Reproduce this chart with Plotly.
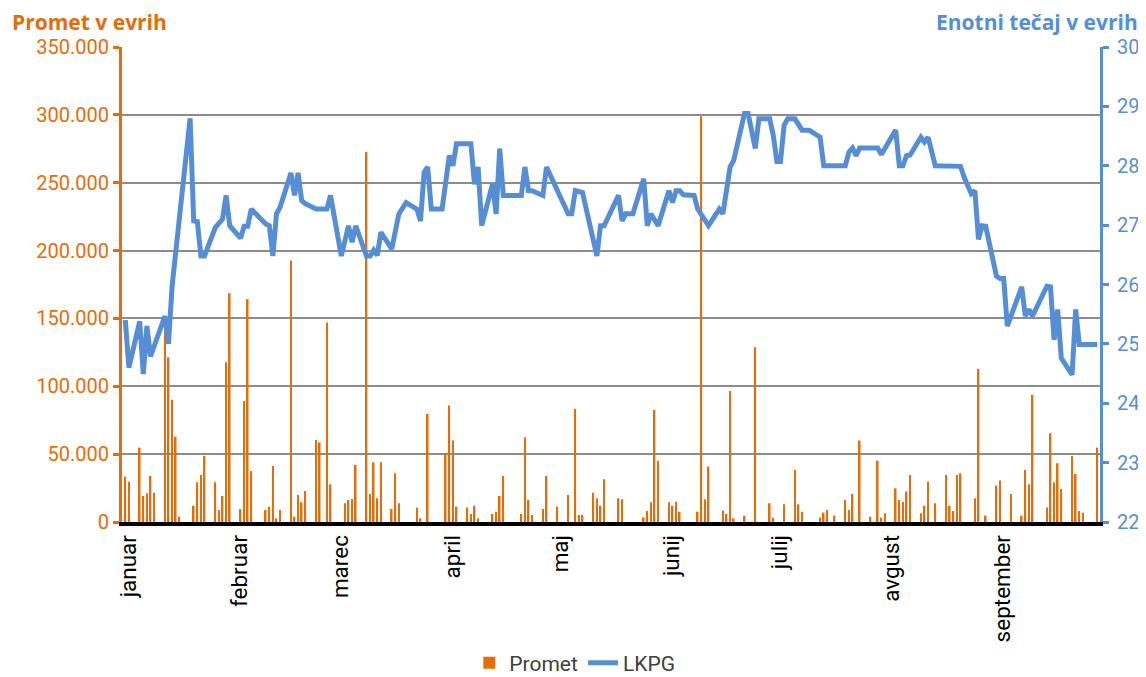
import plotly.graph_objects as go

ORANGE = "#E46C0A"
BLUE = "#558ED5"

# daily turnover (EUR), trading days with a visible bar
promet_dates = [
    "2015-01-01", "2015-01-02", "2015-01-05", "2015-01-06", "2015-01-07", "2015-01-08", "2015-01-09",
    "2015-01-12", "2015-01-13", "2015-01-14", "2015-01-15", "2015-01-16",
    "2015-01-20", "2015-01-21", "2015-01-22", "2015-01-23",
    "2015-01-26", "2015-01-27", "2015-01-28", "2015-01-29", "2015-01-30",
    "2015-02-02", "2015-02-03", "2015-02-04", "2015-02-05",
    "2015-02-09", "2015-02-10", "2015-02-11", "2015-02-12", "2015-02-13",
    "2015-02-16", "2015-02-17", "2015-02-18", "2015-02-19", "2015-02-20",
    "2015-02-23", "2015-02-24", "2015-02-26", "2015-02-27",
    "2015-03-03", "2015-03-04", "2015-03-05", "2015-03-06",
    "2015-03-09", "2015-03-10", "2015-03-11", "2015-03-12", "2015-03-13",
    "2015-03-16", "2015-03-17", "2015-03-18",
    "2015-03-23", "2015-03-24", "2015-03-26",
    "2015-03-31", "2015-04-01", "2015-04-02", "2015-04-03",
    "2015-04-06", "2015-04-07", "2015-04-08", "2015-04-09",
    "2015-04-13", "2015-04-14", "2015-04-15", "2015-04-16",
    "2015-04-21", "2015-04-22", "2015-04-23", "2015-04-24",
    "2015-04-27", "2015-04-28",
    "2015-05-01", "2015-05-04", "2015-05-06", "2015-05-07", "2015-05-08",
    "2015-05-11", "2015-05-12", "2015-05-13", "2015-05-14",
    "2015-05-18", "2015-05-19",
    "2015-05-25", "2015-05-26", "2015-05-27", "2015-05-28", "2015-05-29",
    "2015-06-01", "2015-06-02", "2015-06-03", "2015-06-04",
    "2015-06-09", "2015-06-10", "2015-06-11", "2015-06-12",
    "2015-06-16", "2015-06-17", "2015-06-18", "2015-06-19",
    "2015-06-22", "2015-06-25", "2015-06-29", "2015-06-30",
    "2015-07-03", "2015-07-06", "2015-07-07", "2015-07-08",
    "2015-07-13", "2015-07-14", "2015-07-15", "2015-07-17",
    "2015-07-20", "2015-07-21", "2015-07-22", "2015-07-24",
    "2015-07-27", "2015-07-29", "2015-07-30", "2015-07-31",
    "2015-08-03", "2015-08-04", "2015-08-05", "2015-08-06", "2015-08-07",
    "2015-08-10", "2015-08-11", "2015-08-12", "2015-08-14",
    "2015-08-17", "2015-08-18", "2015-08-19", "2015-08-20", "2015-08-21",
    "2015-08-25", "2015-08-26", "2015-08-28",
    "2015-08-31", "2015-09-01", "2015-09-04",
    "2015-09-07", "2015-09-08", "2015-09-09", "2015-09-10",
    "2015-09-14", "2015-09-15", "2015-09-16", "2015-09-17", "2015-09-18",
    "2015-09-21", "2015-09-22", "2015-09-23", "2015-09-24",
    "2015-09-28",
]
promet_values = [
    33400, 29700, 54800, 19200, 21100, 33900, 21600,
    148000, 121400, 90000, 62900, 4000,
    12000, 29300, 34700, 48700,
    29300, 8800, 19200, 117700, 168600,
    9600, 89200, 164200, 37600,
    8800, 11300, 41300, 2700, 8800,
    192700, 4000, 19900, 14500, 22900,
    60500, 58700, 147000, 27800,
    13800, 16200, 17000, 42000,
    272600, 20600, 44000, 17500, 44000,
    9600, 35900, 13800,
    10600, 2700, 79600,
    49900, 85800, 60000, 11300,
    10600, 5900, 12000, 2700,
    5900, 7600, 19200, 33900,
    5900, 62400, 16200, 5200,
    9600, 33900,
    11300, 19900, 83300, 5200, 5200,
    21600, 17500, 12000, 31500,
    17500, 16700,
    3400, 8100, 14500, 82600, 45200,
    14500, 12000, 15000, 7600,
    7600, 298900, 16700, 40800,
    8400, 5900, 96600, 2700,
    4700, 128800, 13800, 3200,
    13000, 38300, 13000, 7600,
    3400, 6900, 8800, 4700,
    16200, 8800, 20600, 60000,
    3900, 45200, 3200, 6400,
    24800, 16200, 15000, 22400, 34700,
    6400, 12000, 29700, 13800,
    34700, 12000, 8100, 34700, 35900,
    17500, 112800, 4700,
    26800, 30500, 20600,
    4700, 38300, 27800, 93700,
    10600, 65400, 29300, 43300, 24300,
    48700, 35400, 8100, 6900,
    54800,
]

# unit price (EUR)
lkpg_dates = [
    "2015-01-01", "2015-01-02", "2015-01-05", "2015-01-06", "2015-01-07", "2015-01-08",
    "2015-01-12", "2015-01-13", "2015-01-14", "2015-01-19", "2015-01-20", "2015-01-21",
    "2015-01-22", "2015-01-23", "2015-01-26", "2015-01-27", "2015-01-28", "2015-01-29",
    "2015-01-30", "2015-02-02", "2015-02-03", "2015-02-04", "2015-02-05", "2015-02-09",
    "2015-02-10", "2015-02-11", "2015-02-12", "2015-02-13", "2015-02-16", "2015-02-17",
    "2015-02-18", "2015-02-19", "2015-02-20", "2015-02-23", "2015-02-26", "2015-02-27",
    "2015-03-02", "2015-03-04", "2015-03-05", "2015-03-06", "2015-03-09", "2015-03-10",
    "2015-03-11", "2015-03-12", "2015-03-13", "2015-03-16", "2015-03-18", "2015-03-20",
    "2015-03-23", "2015-03-24", "2015-03-25", "2015-03-26", "2015-03-27", "2015-03-30",
    "2015-04-01", "2015-04-02", "2015-04-03", "2015-04-07", "2015-04-08", "2015-04-09",
    "2015-04-10", "2015-04-13", "2015-04-14", "2015-04-15", "2015-04-16", "2015-04-21",
    "2015-04-22", "2015-04-23", "2015-04-24", "2015-04-27", "2015-04-28", "2015-05-04",
    "2015-05-05", "2015-05-06", "2015-05-08", "2015-05-12", "2015-05-13", "2015-05-14",
    "2015-05-18", "2015-05-19", "2015-05-20", "2015-05-22", "2015-05-25", "2015-05-26",
    "2015-05-27", "2015-05-29", "2015-06-01", "2015-06-02", "2015-06-03", "2015-06-04",
    "2015-06-05", "2015-06-08", "2015-06-09", "2015-06-12", "2015-06-15", "2015-06-16",
    "2015-06-18", "2015-06-19", "2015-06-22", "2015-06-23", "2015-06-25", "2015-06-26",
    "2015-06-29", "2015-06-30", "2015-07-01", "2015-07-02", "2015-07-03", "2015-07-04",
    "2015-07-06", "2015-07-08", "2015-07-10", "2015-07-13", "2015-07-14", "2015-07-20",
    "2015-07-21", "2015-07-22", "2015-07-23", "2015-07-24", "2015-07-29", "2015-07-30",
    "2015-08-03", "2015-08-04", "2015-08-05", "2015-08-06", "2015-08-07", "2015-08-10",
    "2015-08-11", "2015-08-12", "2015-08-14", "2015-08-21", "2015-08-22", "2015-08-24",
    "2015-08-25", "2015-08-26", "2015-08-27", "2015-08-28", "2015-08-31", "2015-09-01",
    "2015-09-02", "2015-09-03", "2015-09-07", "2015-09-08", "2015-09-09", "2015-09-10",
    "2015-09-14", "2015-09-15", "2015-09-16", "2015-09-17", "2015-09-18", "2015-09-21",
    "2015-09-22", "2015-09-23", "2015-09-28",
]
lkpg_values = [
    25.4, 24.6, 25.38, 24.49, 25.3, 24.79,
    25.47, 25.0, 25.97, 28.8, 27.07, 27.06,
    26.48, 26.48, 26.96, 27.02, 27.1, 27.5,
    26.99, 26.78, 26.98, 26.98, 27.27, 27.02,
    26.99, 26.48, 27.19, 27.3, 27.88, 27.5,
    27.88, 27.41, 27.36, 27.27, 27.27, 27.5,
    26.48, 26.99, 26.71, 26.99, 26.48, 26.48,
    26.58, 26.49, 26.88, 26.6, 27.19, 27.38,
    27.27, 27.07, 27.89, 27.98, 27.27, 27.27,
    28.17, 28.0, 28.37, 28.37, 27.69, 27.98,
    26.99, 27.69, 27.19, 28.29, 27.5, 27.5,
    27.98, 27.58, 27.58, 27.5, 27.98, 27.19,
    27.19, 27.58, 27.55, 26.48, 26.99, 26.99,
    27.5, 27.07, 27.19, 27.19, 27.78, 26.99,
    27.19, 26.99, 27.58, 27.38, 27.58, 27.58,
    27.51, 27.5, 27.27, 26.99, 27.27, 27.19,
    27.98, 28.09, 28.88, 28.88, 28.29, 28.79,
    28.79, 28.51, 28.07, 28.07, 28.68, 28.79,
    28.79, 28.6, 28.6, 28.48, 28.0, 28.0,
    28.23, 28.3, 28.17, 28.3, 28.3, 28.19,
    28.6, 28.0, 28.0, 28.17, 28.18, 28.48,
    28.4, 28.48, 28.0, 27.99, 27.81, 27.53,
    27.58, 26.76, 26.99, 26.98, 26.14, 26.1,
    26.1, 25.3, 25.96, 25.47, 25.58, 25.47,
    25.97, 25.96, 25.07, 25.58, 24.76, 24.48,
    25.58, 24.99, 24.99,
]

month_ticks = ["2015-01-01", "2015-02-01", "2015-03-01", "2015-04-01", "2015-05-01",
               "2015-06-01", "2015-07-01", "2015-08-01", "2015-09-01"]
month_names = ["januar", "februar", "marec", "april", "maj", "junij", "julij", "avgust", "september"]

fig = go.Figure()
fig.add_trace(go.Bar(
    x=promet_dates, y=promet_values, name="Promet",
    marker=dict(color=ORANGE, line_width=0),
    width=0.45 * 86400000,
))
fig.add_trace(go.Scatter(
    x=lkpg_dates, y=lkpg_values, name="LKPG", mode="lines",
    line=dict(color=BLUE, width=5), yaxis="y2",
))

tick_font = dict(family="Roboto", size=20)

# page body keeps its default 8px margin, so the figure is sized to fit inside it
fig.update_layout(
    width=1138, height=669,
    margin=dict(l=114, r=46, t=39, b=155, autoexpand=False),
    plot_bgcolor="white", paper_bgcolor="white",
    separators=",.",
    font=dict(family="Roboto", color="#404040"),
    xaxis=dict(
        type="date",
        range=["2014-12-31 02:00", "2015-09-28 18:00"],
        tickmode="array", tickvals=month_ticks, ticktext=month_names,
        tickangle=-90, tickfont=dict(family="Roboto", size=22.5, color="black"),
        showgrid=False, zeroline=False, automargin=False,
        showline=True, linecolor="black", linewidth=4,
        ticks="", ticklabelshift=3,
    ),
    yaxis=dict(
        range=[0, 350000], dtick=50000, tickformat=",d",
        tickfont=dict(tick_font, color=ORANGE), automargin=False,
        showgrid=True, gridcolor="#8C8C8C", gridwidth=2, zeroline=False,
        showline=True, linecolor=ORANGE, linewidth=3,
        ticks="outside", ticklen=6, tickwidth=3, tickcolor=ORANGE,
    ),
    yaxis2=dict(
        overlaying="y", side="right",
        range=[22, 30], dtick=1, automargin=False,
        tickfont=dict(tick_font, color=BLUE),
        showgrid=False, zeroline=False,
        showline=True, linecolor=BLUE, linewidth=3,
        ticks="outside", ticklen=6, tickwidth=3, tickcolor=BLUE,
        ticklabelstandoff=4,
    ),
    legend=dict(
        orientation="h", x=0.463, xanchor="center", y=-0.297, yanchor="middle",
        font=dict(family="Roboto", size=21, color="#404040"),
    ),
    showlegend=True,
    annotations=[
        dict(text="<b>Promet v evrih</b>", xref="paper", yref="paper",
             x=-0.1145, y=1.0526, xanchor="left", yanchor="middle", showarrow=False,
             font=dict(family="Open Sans", size=21, color=ORANGE)),
        dict(text="<b>Enotni tečaj v evrih</b>", xref="paper", yref="paper",
             x=1.0409, y=1.0526, xanchor="right", yanchor="middle", showarrow=False,
             font=dict(family="Open Sans", size=21, color=BLUE)),
    ],
)

fig.write_html("out.html")
